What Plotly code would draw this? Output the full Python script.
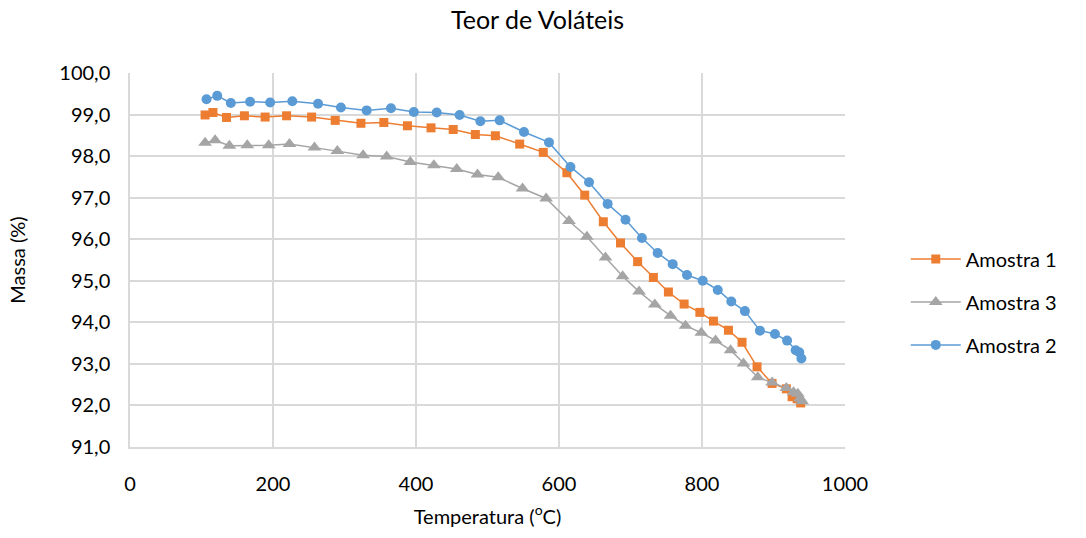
import plotly.graph_objects as go

# Amostra 1
temp_a1 = [105, 116, 135, 160, 189, 219, 254, 287, 323, 355, 388, 421, 452, 483, 511, 545, 578,
           611, 636, 662, 686, 710, 732, 753, 775, 797, 816, 837, 856, 877, 898, 918, 926, 933, 938]
massa_a1 = [98.99, 99.05, 98.93, 98.97, 98.94, 98.97, 98.94, 98.86, 98.79, 98.81, 98.73, 98.68, 98.64,
            98.52, 98.49, 98.29, 98.09, 97.60, 97.06, 96.42, 95.91, 95.46, 95.08, 94.73, 94.44, 94.24,
            94.03, 93.81, 93.52, 92.93, 92.53, 92.40, 92.21, 92.16, 92.06]

# Amostra 3
temp_a3 = [105, 119, 139, 164, 194, 223, 258, 290, 326, 359, 392, 425, 457, 486, 515, 549, 582,
           614, 639, 665, 689, 712, 734, 756, 777, 799, 819, 840, 858, 878, 898, 918, 928, 934, 937, 940]
massa_a3 = [98.32, 98.38, 98.25, 98.26, 98.26, 98.29, 98.21, 98.12, 98.02, 97.99, 97.86, 97.78, 97.69,
            97.56, 97.49, 97.22, 96.98, 96.44, 96.06, 95.56, 95.11, 94.74, 94.43, 94.16, 93.92, 93.75,
            93.56, 93.33, 93.01, 92.68, 92.55, 92.42, 92.32, 92.28, 92.17, 92.10]

# Amostra 2
temp_a2 = [107, 122, 141, 168, 196, 227, 263, 295, 331, 365, 397, 429, 461, 490, 517, 551, 586,
           616, 642, 668, 693, 716, 738, 759, 779, 801, 822, 841, 860, 881, 902, 919, 931, 936, 939]
massa_a2 = [99.37, 99.45, 99.28, 99.31, 99.29, 99.32, 99.26, 99.17, 99.10, 99.15, 99.06, 99.05, 98.99,
            98.84, 98.86, 98.58, 98.33, 97.74, 97.37, 96.85, 96.47, 96.03, 95.67, 95.40, 95.14, 95.00,
            94.78, 94.50, 94.27, 93.80, 93.72, 93.56, 93.33, 93.28, 93.13]

x_ticks = [0, 200, 400, 600, 800, 1000]
y_ticks = [91, 92, 93, 94, 95, 96, 97, 98, 99, 100]

FONT = "Lato, 'Liberation Sans', sans-serif"
GRID = "#d9d9d9"

fig = go.Figure()
fig.add_trace(go.Scatter(
    x=temp_a1, y=massa_a1, name="Amostra 1", legendgroup="a1", mode="lines+markers",
    line=dict(color="#ED7D31", width=1.5),
    marker=dict(symbol="square", size=9, color="#ED7D31"),
))
fig.add_trace(go.Scatter(
    x=temp_a3, y=massa_a3, name="Amostra 3", legendgroup="a3", mode="lines+markers",
    line=dict(color="#A5A5A5", width=1.5),
    marker=dict(symbol="triangle-up", size=12, color="#A5A5A5"),
))
fig.add_trace(go.Scatter(
    x=temp_a2, y=massa_a2, name="Amostra 2", legendgroup="a2", mode="lines+markers",
    line=dict(color="#5B9BD5", width=1.5),
    marker=dict(symbol="circle", size=10, color="#5B9BD5"),
))

fig.update_layout(
    width=1086, height=538,
    margin=dict(l=130, r=241, t=73, b=91),
    paper_bgcolor="white", plot_bgcolor="white",
    separators=",.",
    font=dict(family=FONT, size=20, color="#000000"),
    title=dict(text="Teor de Voláteis", x=0.495, xanchor="center", y=0.978, yanchor="top",
               font=dict(family=FONT, size=25, color="#000000")),
    xaxis=dict(
        range=[0, 1000], tickvals=x_ticks, showgrid=True, gridcolor=GRID, gridwidth=1.5,
        showline=True, linecolor=GRID, linewidth=1.5, mirror=False, zeroline=False,
        ticks="", ticklabelstandoff=18, tickfont=dict(size=20),
        title=dict(text="Temperatura (<sup>o</sup>C)", font=dict(family=FONT, size=20), standoff=16),
    ),
    yaxis=dict(
        range=[91, 100], tickvals=y_ticks, tickformat=".1f", showgrid=True, gridcolor=GRID,
        gridwidth=1.5, showline=True, linecolor=GRID, linewidth=1.5, zeroline=False,
        ticks="", ticklabelstandoff=14, tickfont=dict(size=20),
        title=dict(text="Massa (%)", font=dict(family=FONT, size=20), standoff=28),
    ),
    legend=dict(x=1.085, xanchor="left", y=0.388, yanchor="middle",
                font=dict(family=FONT, size=20), itemwidth=50, tracegroupgap=14,
                bgcolor="rgba(0,0,0,0)"),
    showlegend=True,
)

fig.write_html("out.html")
